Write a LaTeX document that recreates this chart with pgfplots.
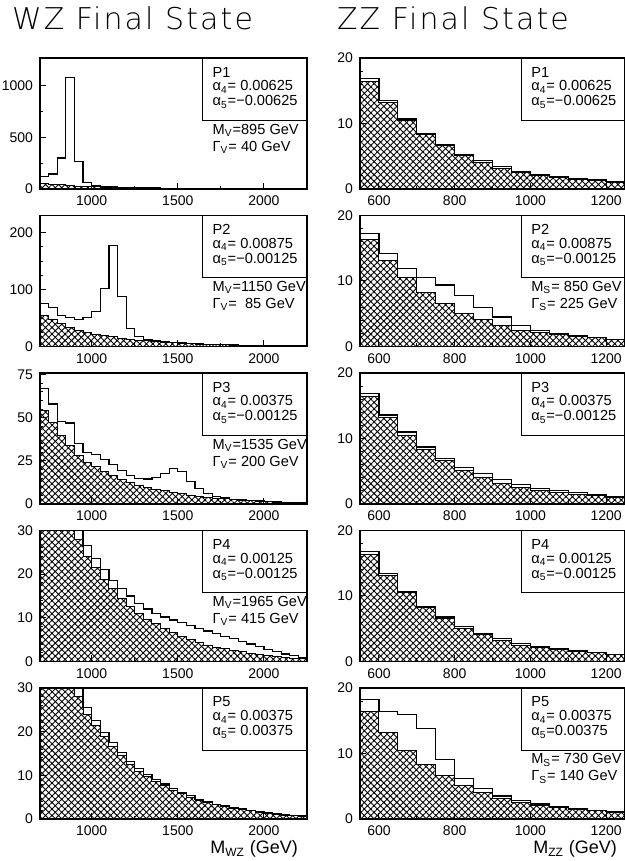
\documentclass[border=0pt]{standalone}
\usepackage{fontspec}
\setmainfont{Liberation Sans}
\newfontfamily\titlefont[LetterSpace=7]{DejaVu Sans ExtraLight}
\usepackage{pgfplots}
\pgfplotsset{compat=1.18}
\usepackage{pgfplotstable}
\usetikzlibrary{patterns.meta}

% WZ final state: background (hatched) and signal+background for P1..P5
\pgfplotstableread{
x     bg    p1    p2    p3    p4    p5
700   54    123   76    67    58    56
750   47    145   69    58    51    49
800   40    300   55    48    44    42
850   34    1082  51    47    38    36
900   28    268   48    35    30.5  30.8
950   24    65    51    30    26.5  25.5
1000  21.5  35    61    28.5  23.5  22.5
1050  18.8  26    102   26    21    19.8
1100  16.7  20    178   23    18.5  17.5
1150  14.5  16    88    19.5  16.8  15.2
1200  12.5  14    32    16.5  15    13.2
1250  10.9  12    17.5  15    13.2  11.5
1300  9.7   10.5  12.5  14.5  12    10.2
1350  8.6   9.3   9.5   15.5  11    9.0
1400  7.6   8.2   8.5   17.5  10.2  8.0
1450  6.6   7.2   7.5   20.5  9.5   7.0
1500  5.8   6.3   6.5   19    8.9   6.1
1550  5.0   5.5   5.6   13    8.3   5.3
1600  4.3   4.7   4.8   9     7.6   4.5
1650  3.7   4.0   4.1   6     7.0   3.9
1700  3.3   3.5   3.6   4.5   6.4   3.4
1750  2.9   3.1   3.1   3.5   5.8   3.0
1800  2.5   2.7   2.7   2.8   5.2   2.6
1850  2.2   2.3   2.4   2.4   4.6   2.3
1900  1.9   2.0   2.0   2.0   4.0   2.0
1950  1.6   1.7   1.7   1.7   3.4   1.7
2000  1.3   1.4   1.4   1.4   2.8   1.4
2050  1.1   1.2   1.2   1.2   2.2   1.2
2100  0.9   1.0   1.0   1.0   1.7   1.0
2150  0.7   0.8   0.8   0.8   1.3   0.8
2200  0.6   0.7   0.7   0.7   1.0   0.7
2250  0.6   0.7   0.7   0.7   1.0   0.7
}\wzdata

% ZZ final state
\pgfplotstableread{
x     bg    p1    p2    p3    p4    p5
550   16.4  16.9  17.3  16.9  16.8  18.3
600   13.2  13.5  14.2  13.6  13.4  16.4
650   10.5  10.7  11.9  11.0  10.7  16.0
700   8.3   8.5   10.5  8.7   8.4   13.8
750   6.6   6.8   9.4   7.0   6.8   9.1
800   5.1   5.3   7.8   5.6   5.3   6.2
850   4.1   4.3   6.0   4.6   4.3   4.6
900   3.2   3.4   4.5   3.8   3.5   3.5
950   2.5   2.7   3.2   3.0   2.7   2.8
1000  2.1   2.2   2.5   2.4   2.2   2.3
1050  1.8   1.9   2.0   2.0   1.9   1.9
1100  1.5   1.6   1.7   1.7   1.6   1.6
1150  1.3   1.4   1.4   1.5   1.4   1.3
1200  1.0   1.1   1.1   1.2   1.1   1.1
1250  1.0   1.1   1.1   1.2   1.1   1.1
}\zzdata

\tikzset{lbl/.style={anchor=west, inner sep=0pt, font=\fontsize{7.3}{8}\selectfont}}
\pgfplotsset{
  panel/.style={scale only axis, height=65.5pt, ymin=0,
    axis line style={line width=0.6pt}, tick align=inside, tick pos=left,
    major tick length=3pt, minor tick length=1.5pt,
    every tick/.style={black, line width=0.5pt},
    ticklabel style={font=\fontsize{7}{8}\selectfont},
    /pgf/number format/1000 sep={}, /pgf/number format/assume math mode=true,
    clip mode=individual, anchor=south west},
  wz/.style={panel, width=133.5pt, xmin=700, xmax=2250,
    xtick={1000,1500,2000}, minor x tick num=1},
  zz/.style={panel, width=132.5pt, xmin=550, xmax=1250,
    xtick={600,800,1000,1200}, minor x tick num=1,
    ymax=20, ytick={0,10,20}, minor y tick num=4},
  bkg/.style={const plot, draw=black, line width=0.5pt,
    pattern={Hatch[angle=45,distance=2.3pt,line width=0.45pt]}},
  sig/.style={const plot, black, line width=0.6pt},
}

% legend box: name, a4, a5, mass, width
\newcommand\legbox[5]{%
  \draw[line width=0.6pt, fill=white] (rel axis cs:0.61,0.525) rectangle (rel axis cs:1,1);
  \node[lbl] at (rel axis cs:0.645,0.893) {#1};
  \node[lbl] at (rel axis cs:0.645,0.779) {#2};
  \node[lbl] at (rel axis cs:0.645,0.664) {#3};
  \node[lbl] at (rel axis cs:0.645,0.45) {#4};
  \node[lbl] at (rel axis cs:0.645,0.32) {#5};
}

\begin{document}
\begin{tikzpicture}
\useasboundingbox (0,0) rectangle (312.5pt,430.5pt);

\node[anchor=base west, font=\titlefont\fontsize{15}{15}\selectfont] at (2.5pt,415.5pt) {WZ Final State};
\node[anchor=base west, font=\titlefont\fontsize{15}{15}\selectfont] at (165pt,415.5pt) {ZZ Final State};

% ---- WZ column ----
\begin{axis}[wz, at={(20pt,336pt)}, ymax=1270, ytick={0,500,1000}, minor y tick num=1]
  \addplot[bkg] table[x=x,y=bg]{\wzdata} \closedcycle;
  \addplot[sig] table[x=x,y=p1]{\wzdata};
  \legbox{P1}{α\textsubscript{4}= 0.00625}{α\textsubscript{5}=−0.00625}{M\textsubscript{V}=895 GeV}{Γ\textsubscript{V}= 40 GeV}
\end{axis}

\begin{axis}[wz, at={(20pt,257.25pt)}, ymax=230, ytick={0,100,200}, minor y tick num=3]
  \addplot[bkg] table[x=x,y=bg]{\wzdata} \closedcycle;
  \addplot[sig] table[x=x,y=p2]{\wzdata};
  \legbox{P2}{α\textsubscript{4}= 0.00875}{α\textsubscript{5}=−0.00125}{M\textsubscript{V}=1150 GeV}{Γ\textsubscript{V}= \ 85 GeV}
\end{axis}

\begin{axis}[wz, at={(20pt,178.5pt)}, ymax=76, ytick={0,25,50,75}, minor y tick num=4]
  \addplot[bkg] table[x=x,y=bg]{\wzdata} \closedcycle;
  \addplot[sig] table[x=x,y=p3]{\wzdata};
  \legbox{P3}{α\textsubscript{4}= 0.00375}{α\textsubscript{5}=−0.00125}{M\textsubscript{V}=1535 GeV}{Γ\textsubscript{V}= 200 GeV}
\end{axis}

\begin{axis}[wz, at={(20pt,99.75pt)}, ymax=30, ytick={0,10,20,30}, minor y tick num=4]
  \addplot[bkg] table[x=x,y=bg]{\wzdata} \closedcycle;
  \addplot[sig] table[x=x,y=p4]{\wzdata};
  \legbox{P4}{α\textsubscript{4}= 0.00125}{α\textsubscript{5}=−0.00125}{M\textsubscript{V}=1965 GeV}{Γ\textsubscript{V}= 415 GeV}
\end{axis}

\begin{axis}[wz, at={(20pt,21pt)}, ymax=30, ytick={0,10,20,30}, minor y tick num=4]
  \addplot[bkg] table[x=x,y=bg]{\wzdata} \closedcycle;
  \addplot[sig] table[x=x,y=p5]{\wzdata};
  \legbox{P5}{α\textsubscript{4}= 0.00375}{α\textsubscript{5}= 0.00375}{}{}
\end{axis}

% ---- ZZ column ----
\begin{axis}[zz, at={(180pt,336pt)}]
  \addplot[bkg] table[x=x,y=bg]{\zzdata} \closedcycle;
  \addplot[sig] table[x=x,y=p1]{\zzdata};
  \legbox{P1}{α\textsubscript{4}= 0.00625}{α\textsubscript{5}=−0.00625}{}{}
\end{axis}

\begin{axis}[zz, at={(180pt,257.25pt)}]
  \addplot[bkg] table[x=x,y=bg]{\zzdata} \closedcycle;
  \addplot[sig] table[x=x,y=p2]{\zzdata};
  \legbox{P2}{α\textsubscript{4}= 0.00875}{α\textsubscript{5}=−0.00125}{M\textsubscript{S}= 850 GeV}{Γ\textsubscript{S}= 225 GeV}
\end{axis}

\begin{axis}[zz, at={(180pt,178.5pt)}]
  \addplot[bkg] table[x=x,y=bg]{\zzdata} \closedcycle;
  \addplot[sig] table[x=x,y=p3]{\zzdata};
  \legbox{P3}{α\textsubscript{4}= 0.00375}{α\textsubscript{5}=−0.00125}{}{}
\end{axis}

\begin{axis}[zz, at={(180pt,99.75pt)}]
  \addplot[bkg] table[x=x,y=bg]{\zzdata} \closedcycle;
  \addplot[sig] table[x=x,y=p4]{\zzdata};
  \legbox{P4}{α\textsubscript{4}= 0.00125}{α\textsubscript{5}=−0.00125}{}{}
\end{axis}

\begin{axis}[zz, at={(180pt,21pt)}]
  \addplot[bkg] table[x=x,y=bg]{\zzdata} \closedcycle;
  \addplot[sig] table[x=x,y=p5]{\zzdata};
  \legbox{P5}{α\textsubscript{4}= 0.00375}{α\textsubscript{5}=0.00375}{M\textsubscript{S}= 730 GeV}{Γ\textsubscript{S}= 140 GeV}
\end{axis}

\node[anchor=base east, font=\fontsize{9}{10}\selectfont] at (152.5pt,3.5pt) {M\textsubscript{WZ} (GeV)};
\node[anchor=base east, font=\fontsize{9}{10}\selectfont] at (312pt,3.5pt) {M\textsubscript{ZZ} (GeV)};
\end{tikzpicture}
\end{document}
